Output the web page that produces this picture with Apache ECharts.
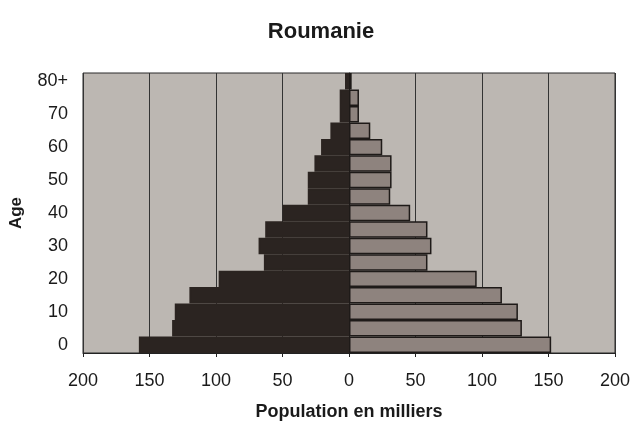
<!DOCTYPE html>
<html>
<head>
<meta charset="utf-8">
<script src="https://cdn.jsdelivr.net/npm/echarts@6/dist/echarts.min.js"></script>
<style>
  html, body { margin: 0; padding: 0; background: #fff; }
  #chart { width: 631px; height: 421px; }
</style>
</head>
<body>
<div id="chart"></div>
<script>
// age groups, bottom to top
const ages = ['0', '5', '10', '15', '20', '25', '30', '35', '40', '45', '50', '55', '60', '65', '70', '75', '80+']
// population in thousands
const leftPop = [158, 133, 131, 120, 98, 64, 68, 63, 50, 31, 31, 26, 21, 14, 7, 7, 3]
const rightPop = [152, 130, 127, 115, 96, 59, 62, 59, 46, 31, 32, 32, 25, 16, 7.5, 7.5, 2]
const xTicks = [-200, 200, 50]

const chart = echarts.init(document.getElementById('chart'))
const font = 'Liberation Sans, Arial, sans-serif'

chart.setOption({
  animation: false,
  backgroundColor: '#fff',
  title: {
    text: 'Roumanie',
    left: 316,
    top: 16,
    textAlign: 'center',
    textStyle: { fontFamily: font, fontSize: 22, fontWeight: 'bold', color: '#1a1a1a' },
  },
  grid: {
    left: 83, right: 16, top: 73, bottom: 68,
    outerBoundsMode: 'none',
    containLabel: false,
    show: true,
    backgroundColor: '#bcb7b2',
    borderColor: '#2a2a2a',
    borderWidth: 1,
  },
  xAxis: {
    type: 'value',
    min: xTicks[0],
    max: xTicks[1],
    interval: xTicks[2],
    name: 'Population en milliers',
    nameLocation: 'middle',
    nameGap: 50,
    nameTextStyle: { fontFamily: font, fontSize: 18, fontWeight: 'bold', color: '#1a1a1a' },
    axisLine: { show: true, lineStyle: { color: '#222', width: 1 } },
    axisTick: { show: true, length: 4, lineStyle: { color: '#222' } },
    axisLabel: {
      margin: 19,
      fontFamily: font, fontSize: 18, color: '#1a1a1a',
      formatter: (v) => Math.abs(v),
    },
    splitLine: { show: true, lineStyle: { color: '#333', width: 1 } },
  },
  yAxis: {
    type: 'category',
    data: ages,
    name: 'Age',
    nameLocation: 'middle',
    nameGap: 58,
    nameTextStyle: { fontFamily: font, fontSize: 17, fontWeight: 'bold', color: '#1a1a1a' },
    axisLine: { show: true, lineStyle: { color: '#222' } },
    axisTick: { show: false },
    axisLabel: { interval: 1, margin: 15, fontFamily: font, fontSize: 18, color: '#1a1a1a' },
  },
  series: [
    {
      type: 'bar',
      data: leftPop.map((v) => -v),
      barWidth: '100%',
      barGap: '-100%',
      // thick same-colour border hides the seams between rows
      itemStyle: { color: '#2b2421', borderColor: '#2b2421', borderWidth: 2 },
    },
    {
      type: 'bar',
      data: rightPop,
      barWidth: '100%',
      barGap: '-100%',
      itemStyle: { color: '#8e837e', borderColor: '#1e1a18', borderWidth: 1.5 },
    },
  ],
})
</script>
</body>
</html>
